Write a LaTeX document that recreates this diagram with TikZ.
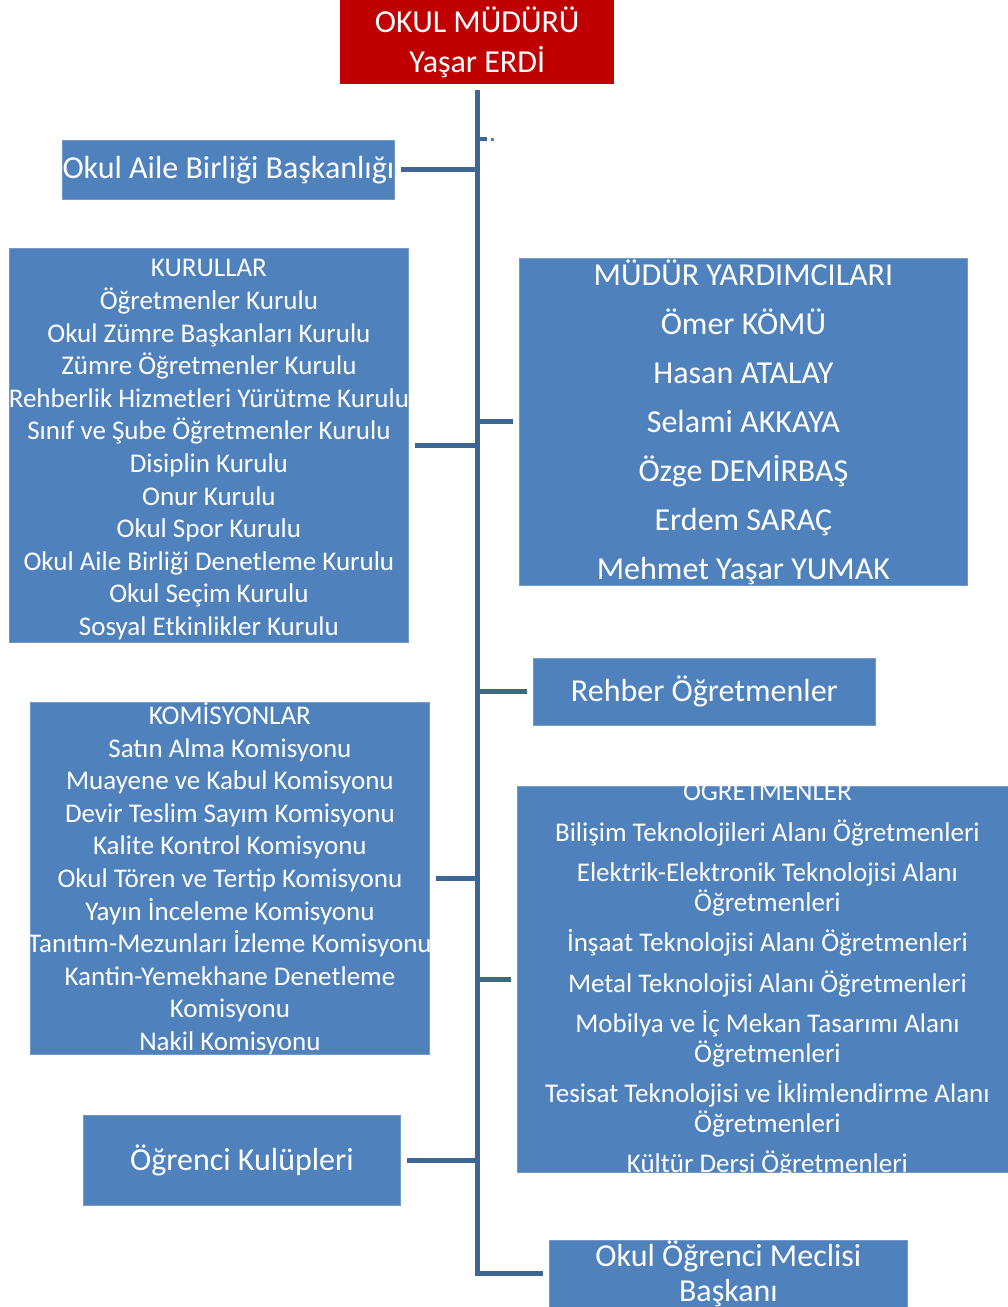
\documentclass[tikz,border=0pt]{standalone}
\usepackage{fontspec}
\setmainfont{Carlito}
\usepackage{xcolor}
\usepackage{tikz}
\usetikzlibrary{calc}

\definecolor{mudurred}{HTML}{C00000}
\definecolor{unitblue}{HTML}{4F81BD}
\definecolor{unitedge}{HTML}{7399C8}
\definecolor{linkblue}{HTML}{3D6697}

\tikzset{
  unit/.style={fill=unitblue, draw=unitedge, line width=0.8pt, text=white,
    align=center, anchor=north west, inner sep=0pt},
  bigtext/.style={font=\fontsize{32}{36}\selectfont},
  listtext/.style={font=\fontsize{27}{32.6}\selectfont},
  link/.style={linkblue, line width=5pt},
}

\begin{document}
\begin{tikzpicture}[x=1pt, y=-1pt]
\useasboundingbox (0,0) rectangle (1008,1307);

% head of school
\node (mudur) [fill=mudurred, text=white, align=center, anchor=north west,
  minimum width=274pt, minimum height=84pt, inner sep=0pt,
  font=\fontsize{32}{40}\selectfont] at (340,0) {OKUL MÜDÜRÜ\\Yaşar ERDİ};

% left side
\node (aile) [unit, bigtext, minimum width=332pt, minimum height=59pt] at (62,140)
  {Okul Aile Birliği Başkanlığı};
\node (kurul) [unit, listtext, minimum width=399pt, minimum height=394pt] at (9,248) {
  \rule{0pt}{26pt}KURULLAR\\
  Öğretmenler Kurulu\\
  Okul Zümre Başkanları Kurulu\\
  Zümre Öğretmenler Kurulu\\
  \makebox[380pt]{Rehberlik Hizmetleri Yürütme Kurulu}\\
  Sınıf ve Şube Öğretmenler Kurulu\\
  Disiplin Kurulu\\
  Onur Kurulu\\
  Okul Spor Kurulu\\
  Okul Aile Birliği Denetleme Kurulu\\
  Okul Seçim Kurulu\\
  Sosyal Etkinlikler Kurulu
};
\node (komisyon) [unit, listtext, minimum width=399pt, minimum height=350pt] at (30,702) {
  KOMİSYONLAR\\
  Satın Alma Komisyonu\\
  Muayene ve Kabul Komisyonu\\
  Devir Teslim Sayım Komisyonu\\
  Kalite Kontrol Komisyonu\\
  Okul Tören ve Tertip Komisyonu\\
  Yayın İnceleme Komisyonu\\
  \makebox[380pt]{Tanıtım-Mezunları İzleme Komisyonu}\\
  Kantin-Yemekhane Denetleme\\
  Komisyonu\\
  Nakil Komisyonu
};
\node (kulup) [unit, bigtext, minimum width=317pt, minimum height=90pt] at (83,1115)
  {Öğrenci Kulüpleri};

% right side
\node (yardimci) [unit, font=\fontsize{32}{49}\selectfont,
  minimum width=448pt, minimum height=327pt] at (519,258) {
  MÜDÜR YARDIMCILARI\\
  Ömer KÖMÜ\\
  Hasan ATALAY\\
  Selami AKKAYA\\
  Özge DEMİRBAŞ\\
  Erdem SARAÇ\\
  Mehmet Yaşar YUMAK
};
\node (rehber) [unit, bigtext, minimum width=342pt, minimum height=67pt] at (533,658)
  {Rehber Öğretmenler};
\node (ogretmen) [unit, minimum width=500pt, minimum height=386pt] at (517,786) {};
\begin{scope}
  \clip (ogretmen.north west) rectangle (ogretmen.south east);
  \node (ogrliste) [text=white, align=center, font=\fontsize{27}{29.5}\selectfont]
    at ($(ogretmen.center)+(0,-1.5)$) {
    ÖĞRETMENLER\\[11pt]
    Bilişim Teknolojileri Alanı Öğretmenleri\\[11pt]
    Elektrik-Elektronik Teknolojisi Alanı\\Öğretmenleri\\[11pt]
    İnşaat Teknolojisi Alanı Öğretmenleri\\[11pt]
    Metal Teknolojisi Alanı Öğretmenleri\\[11pt]
    Mobilya ve İç Mekan Tasarımı Alanı\\Öğretmenleri\\[11pt]
    Tesisat Teknolojisi ve İklimlendirme Alanı\\Öğretmenleri\\[11pt]
    Kültür Dersi Öğretmenleri
  };
\end{scope}
\node (meclis) [unit, font=\fontsize{32}{35}\selectfont,
  minimum width=358pt, minimum height=67pt] at (549,1240)
  {Okul Öğrenci Meclisi\\Başkanı};

% connectors
\draw[link] ($(mudur.south)+(0,6)$) |- ($(meclis.west)+(-6,0)$);
\draw[linkblue, line width=4pt] (mudur.south |- 0,139) -- +(10,0);
\fill[unitblue] (491,138) rectangle (494,141);
\foreach \u in {aile, kurul, komisyon, kulup}
  \draw[link] ($(\u.east)+(6,0)$) -- (\u.east -| mudur.south);
\foreach \u in {yardimci, rehber, ogretmen}
  \draw[link] ($(\u.west)+(-6,0)$) -- (\u.west -| mudur.south);
\end{tikzpicture}
\end{document}
